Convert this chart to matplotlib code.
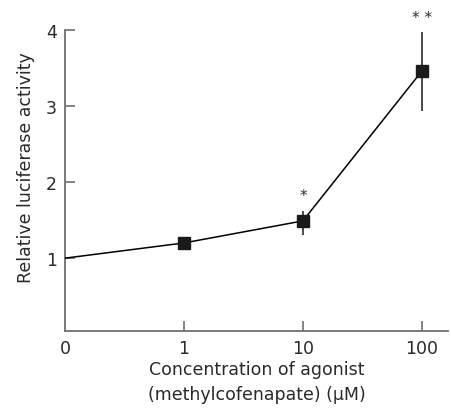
import numpy as np
import matplotlib
matplotlib.use("Agg")
import matplotlib.pyplot as plt

# --- data ---
conc_labels = ["0", "1", "10", "100"]
activity = [1.0, 1.20, 1.49, 3.46]
err_low = [0.0, 0.0, 0.19, 0.53]
err_high = [0.0, 0.0, 0.13, 0.51]
stars = ["", "", "*", "* *"]
y_ticks = [1, 2, 3, 4]

plt.rcParams['font.family'] = ['DejaVu Sans']
axis_grey = "#707070"
text_col = "#2a2a2a"

fig = plt.figure(figsize=(4.52, 4.10), dpi=100)
ax = fig.add_axes([0.144, 0.190, 0.847, 0.734])

xpos = np.arange(len(conc_labels))

# line through all points, markers only for the non-zero concentrations
ax.plot(xpos, activity, color="black", lw=1.1, zorder=3)
ax.errorbar(xpos[1:], activity[1:], yerr=[err_low[1:], err_high[1:]],
            fmt="s", ms=8.5, color="#1a1a1a", ecolor="#1a1a1a",
            elinewidth=1.1, capsize=0, zorder=4)

for x, y, eh, s in zip(xpos, activity, err_high, stars):
    if s:
        ax.text(x, y + eh + 0.1, s, ha="center", va="bottom",
                fontsize=11, color=text_col)

ax.set_xlim(0, 3.22)
ax.set_ylim(0.04, 4)
ax.set_xticks(xpos)
ax.set_xticklabels(conc_labels)
ax.set_yticks(y_ticks)

for side in ["top", "right"]:
    ax.spines[side].set_visible(False)
for side in ["left", "bottom"]:
    ax.spines[side].set_color(axis_grey)
    ax.spines[side].set_linewidth(1.3)
ax.spines["left"].set_bounds(0.04, 4)

ax.tick_params(direction="in", length=7, width=1.2, color=axis_grey,
               labelsize=12.5, labelcolor=text_col, pad=6)
ax.xaxis.get_major_ticks()[0].tick1line.set_visible(False)

ax.set_xlabel("Concentration of agonist\n(methylcofenapate) (\u03bcM)",
              fontsize=12.5, color=text_col, labelpad=2, linespacing=1.45)
ax.set_ylabel("Relative luciferase activity", fontsize=12.5, color=text_col)
ax.yaxis.set_label_coords(-0.078, 0.548)

fig.savefig("out.png", dpi=100)
